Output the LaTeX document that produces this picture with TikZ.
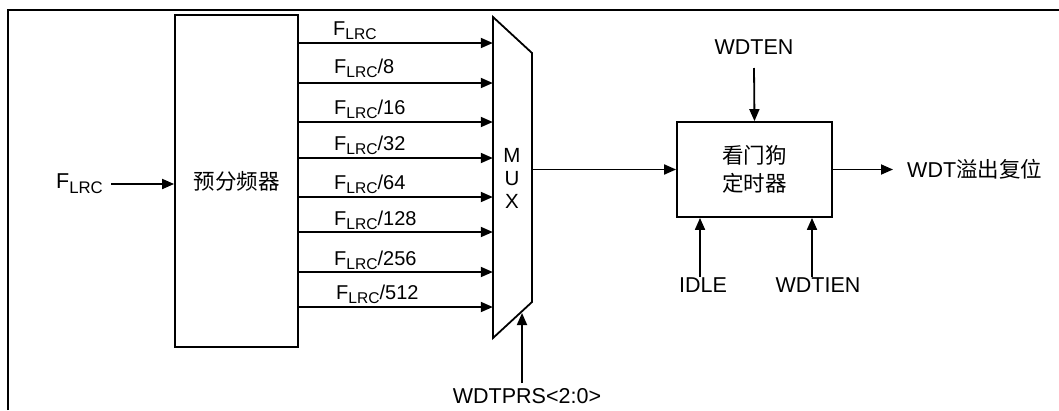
\documentclass[tikz,border=0pt]{standalone}
\usepackage{fontspec}
\setmainfont{Liberation Sans}
\newfontfamily\cjk{Noto Sans CJK SC}
\usetikzlibrary{arrows.meta}
\newcommand{\flrc}{F\raisebox{-0.22em}{\scalebox{0.78}{LRC}}}
\begin{document}
\begin{tikzpicture}[x=1pt,y=-1pt,
  arr/.style={line width=1.8pt,-{Triangle[length=12pt,width=10pt]}},
  blk/.style={draw,line width=1.8pt,inner sep=0pt},
  lbl/.style={font=\fontsize{20}{23}\selectfont,inner sep=0pt},
  sig/.style={font=\fontsize{21.5}{25}\selectfont},
  zh/.style={font={\fontsize{21.5}{28}\selectfont\cjk}}]
\useasboundingbox (0,0) rectangle (1059,410);
\draw[line width=2.2pt] (8,410) -- (8,10) -- (1059,10);

% prescaler
\node[blk,zh,minimum width=123pt,minimum height=332pt] (pre) at (236.5,181) {预分频器};

% input
\node[sig,anchor=east,inner xsep=8pt,inner ysep=0pt] (fin) at (111,184) {\flrc};
\draw[arr] (fin.east) -- (pre.west |- fin.east);

% MUX
\node[minimum width=39pt,minimum height=321pt,inner sep=0pt] (mux) at (512.5,177.5) {};
\draw[line width=1.8pt,line join=miter] (493,17) -- (532,53) -- (532,302) -- (493,338) -- cycle;
\node[lbl,align=center,font=\fontsize{20.5}{23}\selectfont] (muxt) at (512,178) {M\\U\\X};

% prescaler outputs
\coordinate (r1) at (0,43);
\coordinate (r2) at (0,83);
\coordinate (r3) at (0,122);
\coordinate (r4) at (0,158);
\coordinate (r5) at (0,197);
\coordinate (r6) at (0,232);
\coordinate (r7) at (0,272);
\coordinate (r8) at (0,307);
\foreach \i in {1,...,8}{\draw[arr] (pre.east |- r\i) -- (mux.west |- r\i);}
\node[lbl,anchor=base west] (l1) at (333,35) {\flrc};
\node[lbl,anchor=base west] (l2) at (334,73) {\flrc/8};
\node[lbl,anchor=base west] (l3) at (334,114) {\flrc/16};
\node[lbl,anchor=base west] (l4) at (334,150) {\flrc/32};
\node[lbl,anchor=base west] (l5) at (334,189) {\flrc/64};
\node[lbl,anchor=base west] (l6) at (334,225) {\flrc/128};
\node[lbl,anchor=base west] (l7) at (334,265) {\flrc/256};
\node[lbl,anchor=base west] (l8) at (336,299) {\flrc/512};

% WDTPRS
\node[sig,anchor=north,inner xsep=0pt,inner ysep=5pt] (prs) at (527,383) {WDTPRS<2:0>};
\coordinate (prsTip) at (522,313);
\draw[arr] ([xshift=-5pt]prs.north) -- (prsTip);

% watchdog timer
\node[blk,zh,align=center,minimum width=155pt,minimum height=95pt] (wdt) at (754.5,169.5) {看门狗\\定时器};
\draw[arr] (mux.east |- wdt) -- (wdt.west);

% output
\node[sig,anchor=west,inner xsep=14pt,inner ysep=0pt] (out) at (893,169.5) {WDT{\cjk 溢出复位}};
\draw[arr] (wdt.east) -- (out.west);

% WDTEN
\node[sig,anchor=south,inner xsep=0pt,inner ysep=13pt] (wdten) at (754,68) {WDTEN};
\draw[arr] (wdten.south) -- (wdt.north);

% IDLE, WDTIEN
\node[sig,anchor=north,inner xsep=0pt,inner ysep=1pt] (idle) at (703,277) {IDLE};
\draw[arr] ([xshift=-3pt]idle.north) -- ([xshift=-3pt]idle.north |- wdt.south);
\node[sig,anchor=north,inner xsep=0pt,inner ysep=1pt] (wdtien) at (818,277) {WDTIEN};
\draw[arr] ([xshift=-6pt]wdtien.north) -- ([xshift=-6pt]wdtien.north |- wdt.south);
\end{tikzpicture}
\end{document}
